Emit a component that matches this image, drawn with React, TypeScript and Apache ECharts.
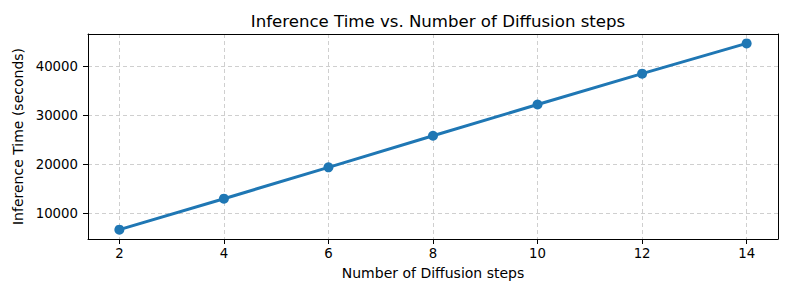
import React, { useEffect, useRef } from "react";
import * as echarts from "echarts";

const steps = [2, 4, 6, 8, 10, 12, 14];
const inferenceTime = [6600, 12950, 19380, 25850, 32250, 38580, 44780];
const xTicks = [2, 4, 6, 8, 10, 12, 14];
const yTicks = [10000, 20000, 30000, 40000];

const FONT = "DejaVu Sans";

export default function App() {
  const ref = useRef<HTMLDivElement>(null);
  useEffect(() => {
    if (!ref.current) return;
    const chart = echarts.init(ref.current, undefined, { renderer: "svg" });
    const ymin = 4690;
    const ymax = 46710;
    const xmin = 1.4;
    const xmax = 14.6;
    const spine = { show: true, onZero: false, lineStyle: { color: "#000", width: 1 } };
    chart.setOption({
      animation: false,
      backgroundColor: "#ffffff",
      textStyle: { fontFamily: FONT },
      title: {
        text: "Inference Time vs. Number of Diffusion steps",
        left: 433,
        top: 8,
        textAlign: "center",
        textStyle: { fontFamily: FONT, fontSize: 16.6, fontWeight: "normal", color: "#000" },
      },
      grid: { left: 88, right: 15, top: 34, bottom: 58 },
      xAxis: [
        {
          type: "value",
          min: xmin,
          max: xmax,
          name: "Number of Diffusion steps",
          nameLocation: "middle",
          nameGap: 27,
          nameTextStyle: { fontFamily: FONT, fontSize: 14, color: "#000" },
          axisLine: spine,
          axisTick: { show: true, inside: false, length: 5, customValues: xTicks, lineStyle: { color: "#000" } },
          axisLabel: {
            customValues: xTicks,
            fontFamily: FONT,
            fontSize: 13.3,
            color: "#000",
            margin: 8,
            formatter: (v: number) => String(v),
          },
          splitLine: { show: true, lineStyle: { type: [4, 3], color: "#cfcfcf", width: 1 } },
        },
        {
          type: "value",
          position: "top",
          min: xmin,
          max: xmax,
          axisLine: spine,
          axisTick: { show: false },
          axisLabel: { show: false },
          splitLine: { show: false },
        },
      ],
      yAxis: [
        {
          type: "value",
          min: ymin,
          max: ymax,
          name: "Inference Time (seconds)",
          nameLocation: "middle",
          nameGap: 49,
          nameTextStyle: { fontFamily: FONT, fontSize: 14, color: "#000" },
          axisLine: spine,
          axisTick: { show: true, inside: false, length: 5, customValues: yTicks, lineStyle: { color: "#000" } },
          axisLabel: {
            customValues: yTicks,
            fontFamily: FONT,
            fontSize: 13.3,
            color: "#000",
            margin: 10,
            formatter: (v: number) => String(v),
          },
          splitLine: { show: true, lineStyle: { type: [4, 3], color: "#cfcfcf", width: 1 } },
        },
        {
          type: "value",
          position: "right",
          min: ymin,
          max: ymax,
          axisLine: spine,
          axisTick: { show: false },
          axisLabel: { show: false },
          splitLine: { show: false },
        },
      ],
      series: [
        {
          type: "line",
          xAxisIndex: 0,
          yAxisIndex: 0,
          data: steps.map((s, i) => [s, inferenceTime[i]]),
          symbol: "circle",
          symbolSize: 10,
          lineStyle: { color: "#1f77b4", width: 3 },
          itemStyle: { color: "#1f77b4" },
        },
      ],
    });
    return () => chart.dispose();
  }, []);
  return (
    <div
      ref={ref}
      style={{ position: "fixed", left: 0, top: 0, width: 793, height: 297, background: "#fff" }}
    />
  );
}
